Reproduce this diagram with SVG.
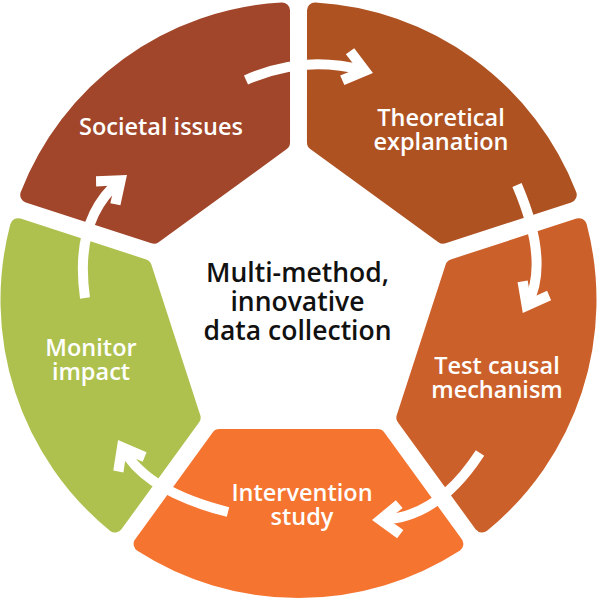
<svg xmlns="http://www.w3.org/2000/svg" width="597" height="600" viewBox="0 0 597 600">
<style>
.seg{stroke-width:16;stroke-linejoin:round}
.lbl{font-family:"Open Sans","Liberation Sans",sans-serif;font-size:23.5px;font-weight:600;fill:#fff;text-anchor:middle}
.ctr{font-family:"Open Sans","Liberation Sans",sans-serif;font-size:26.5px;font-weight:600;fill:#111;text-anchor:middle}
.arrow{fill:none;stroke:#fff;stroke-width:10;marker-end:url(#head)}
</style>
<defs>
<path id="seg" d="M137,-79.2 L243.93,-156.83 A290,290 0 0 1 243.93,156.83 L137,79.2 Z"/>
<marker id="head" markerUnits="userSpaceOnUse" orient="auto" refX="-10" refY="0" markerWidth="1" markerHeight="1" overflow="visible">
<polygon points="0,0 -24.5,-19 -31,-11 -16.5,0 -31,11 -24.5,19" fill="#fff"/>
</marker>
</defs>
<rect width="597" height="600" fill="#fff"/>
<g id="societal">
<use href="#seg" class="seg" transform="translate(298.5 300) rotate(-126)" fill="#A1462A" stroke="#A1462A"/>
<text class="lbl" x="161" y="135">Societal issues</text>
</g>
<g id="theoretical">
<use href="#seg" class="seg" transform="translate(298.5 300) rotate(-54)" fill="#AE5222" stroke="#AE5222"/>
<text class="lbl" x="441"><tspan x="441" y="126">Theoretical</tspan><tspan x="441" y="150">explanation</tspan></text>
</g>
<g id="test">
<use href="#seg" class="seg" transform="translate(298.5 300) rotate(18)" fill="#CC602A" stroke="#CC602A"/>
<text class="lbl" x="497"><tspan x="497" y="374">Test causal</tspan><tspan x="497" y="398">mechanism</tspan></text>
</g>
<g id="intervention">
<use href="#seg" class="seg" transform="translate(298.5 300) rotate(90)" fill="#F47430" stroke="#F47430"/>
<text class="lbl" x="302"><tspan x="302" y="500.5">Intervention</tspan><tspan x="302" y="525">study</tspan></text>
</g>
<g id="monitor">
<use href="#seg" class="seg" transform="translate(298.5 300) rotate(162)" fill="#AEC14E" stroke="#AEC14E"/>
<text class="lbl" x="91"><tspan x="91" y="356">Monitor</tspan><tspan x="91" y="380">impact</tspan></text>
</g>
<g id="center">
<text class="ctr" x="297.5"><tspan x="297.5" y="282">Multi-method,</tspan><tspan x="297.5" y="311">innovative</tspan><tspan x="297.5" y="340">data collection</tspan></text>
</g>
<g id="connectors">
<path class="arrow" d="M246,80 Q303.6,54.4 363.3,70.4"/>
<path class="arrow" d="M517,185 Q550,262 527.5,304.1"/>
<path class="arrow" d="M480,453 Q437.9,517.8 382,519.7"/>
<path class="arrow" d="M228,512 Q146.7,491.7 122.9,448.7"/>
<path class="arrow" d="M85,298 Q74,219.5 119.3,181.4"/>
</g>
</svg>
